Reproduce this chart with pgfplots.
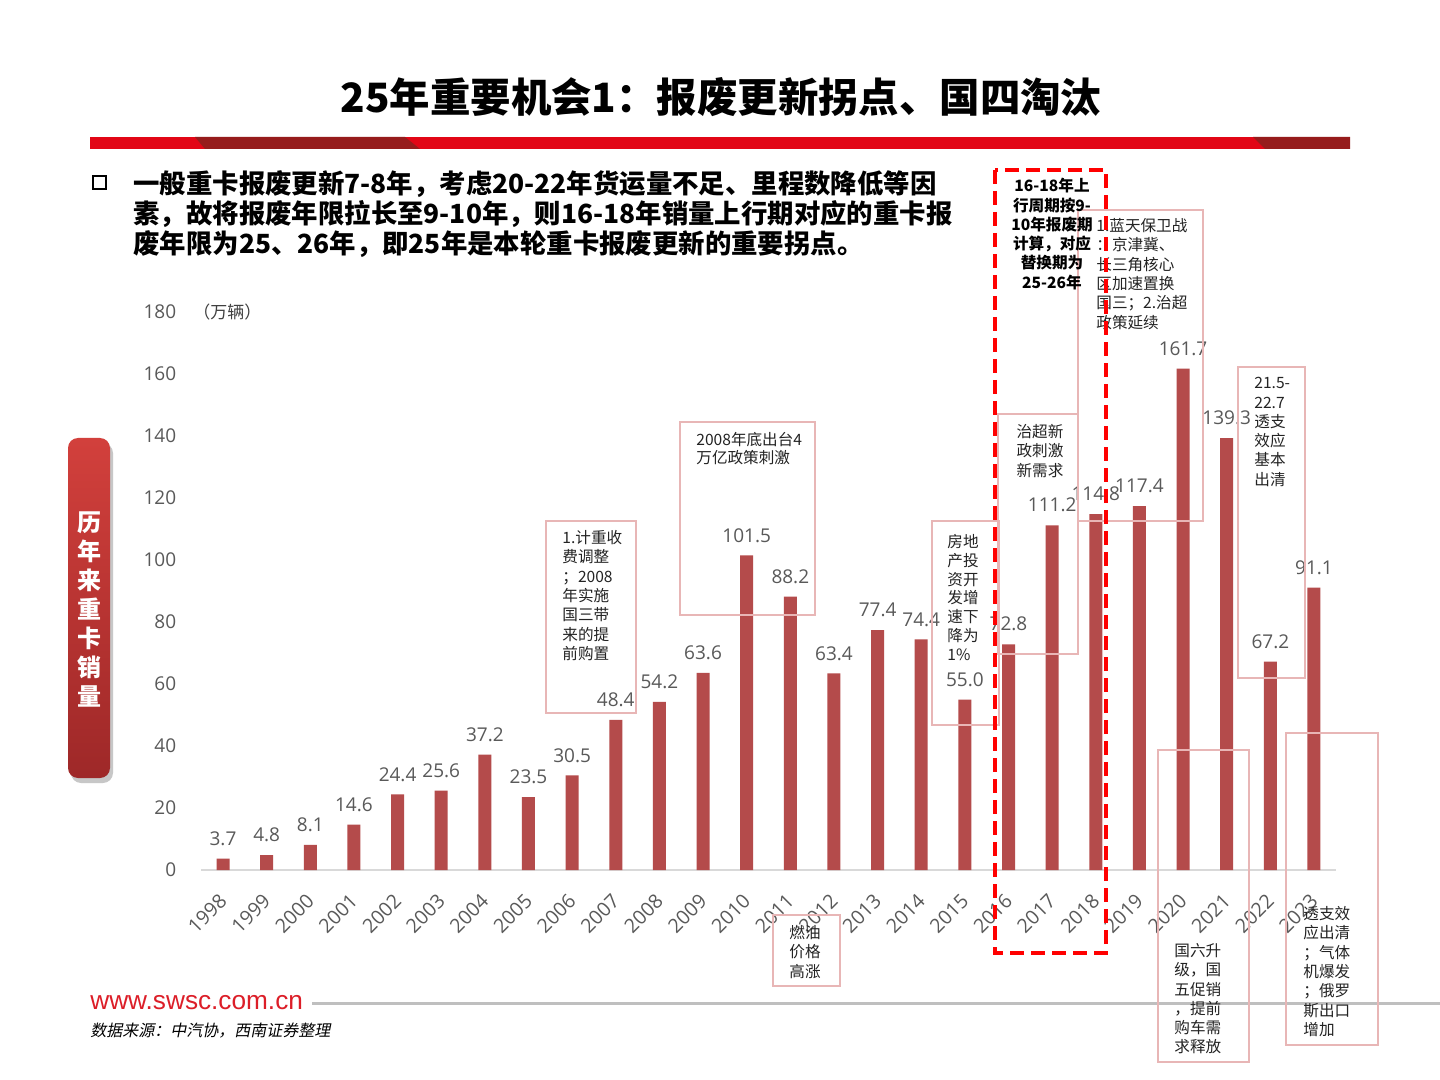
\documentclass[border=0pt]{standalone}
\usepackage{pgfplots}
\pgfplotsset{compat=1.18}
\usepackage{fontspec}
\setmainfont{Noto Sans CJK SC}
\newfontfamily\numfont{Open Sans}
\newfontfamily\urlfont{Liberation Sans}
\newfontfamily\srcfont{Noto Sans CJK SC}[FakeSlant=0.2]
\definecolor{barred}{RGB}{180,75,75}
\definecolor{lblgray}{RGB}{89,89,89}
\definecolor{boxpink}{RGB}{232,182,182}
\definecolor{brightred}{RGB}{226,6,22}
\definecolor{darkred}{RGB}{150,28,28}
\definecolor{anntext}{RGB}{35,35,35}
\definecolor{urlred}{RGB}{220,30,40}
\tikzset{ann/.style={font=\fontsize{7.8}{9.65}\selectfont, inner sep=0pt, align=left, anchor=north west, text=anntext}}
\begin{document}
\begin{tikzpicture}
\begin{scope}[x=0.5pt,y=-0.5pt]
\useasboundingbox (0,0) rectangle (1440,1080);
\fill[white] (0,0) rectangle (1440,1080);
% title
\node[font=\bfseries\fontsize{20.2}{24}\selectfont] at (721,97) {25年重要机会1：报废更新拐点、国四淘汰};
% band
\fill[brightred] (90,137) rectangle (1350,149);
\fill[darkred] (195,137) -- (405,137) -- (420,149) -- (205,149) -- cycle;
\fill[darkred] (1253,137) -- (1350,137) -- (1350,149) -- (1265,149) -- cycle;
% bullet + text
\draw[line width=1.3pt] (93,176) rectangle (106,189);
\node[anchor=north west, align=left, inner sep=0pt, font=\bfseries\fontsize{13.2}{15}\selectfont] at (133,170)
 {一般重卡报废更新7-8年，考虑20-22年货运量不足、里程数降低等因\\素，故将报废年限拉长至9-10年，则16-18年销量上行期对应的重卡报\\废年限为25、26年，即25年是本轮重卡报废更新的重要拐点。};
% unit
\node[anchor=west, inner sep=0pt, font=\fontsize{8.5}{10}\selectfont, text={rgb,255:red,64;green,64;blue,64}] at (193,312) {（万辆）};
% sidebar
\fill[black!22, rounded corners=5pt] (71,443) rectangle (113,783);
\shade[top color={rgb,255:red,210;green,64;blue,60}, bottom color={rgb,255:red,158;green,40;blue,40}, rounded corners=5pt] (68,438) rectangle (110,778);
\node[font=\bfseries\fontsize{12}{14.5}\selectfont, text=white, align=center] at (89,609) {历\\年\\来\\重\\卡\\销\\量};
% footer
\node[anchor=west, font=\urlfont\fontsize{13.1}{16}\selectfont, text=urlred, inner sep=0pt] at (90,1003) {www.swsc.com.cn};
\draw[black!25, line width=1.5pt] (312,1003) -- (1440,1003);
\node[anchor=west, font=\srcfont\fontsize{8}{10}\selectfont, inner sep=0pt] at (90,1031) {数据来源：中汽协，西南证券整理};
\end{scope}

\begin{axis}[at={(100.6pt,-435pt)}, anchor=south west, scale only axis,
 width=567.3pt, height=279pt,
 xmin=-0.5, xmax=25.5, ymin=0, ymax=180,
 ybar, bar width=6.5pt,
 axis lines*=left, axis line style={-},
 x axis line style={draw={rgb,255:red,217;green,217;blue,217}, line width=0.75pt},
 y axis line style={draw=none},
 major tick length=0pt,
 ytick={0,20,...,180},
 xtick={0,...,25},
 xticklabels={1998,1999,2000,2001,2002,2003,2004,2005,2006,2007,2008,2009,2010,2011,2012,2013,2014,2015,2016,2017,2018,2019,2020,2021,2022,2023},
 /pgf/number format/assume math mode=true,
 yticklabel style={font=\numfont\fontsize{9.5}{11}\selectfont, text=lblgray, xshift=-9pt},
 xticklabel style={font=\numfont\fontsize{9.8}{11}\selectfont, text=lblgray, xshift=2.5pt, yshift=-11.5pt, rotate=45, anchor=east},
 nodes near coords,
 every node near coord/.append style={font=\numfont\fontsize{9.5}{11}\selectfont, text=lblgray, yshift=3pt, /pgf/number format/.cd, fixed, fixed zerofill, precision=1},
 clip=false,
]
\addplot[fill=barred, draw=none] coordinates {
(0,3.7) (1,4.8) (2,8.1) (3,14.6) (4,24.4) (5,25.6) (6,37.2) (7,23.5) (8,30.5) (9,48.4)
(10,54.2) (11,63.6) (12,101.5) (13,88.2) (14,63.4) (15,77.4) (16,74.4) (17,55.0) (18,72.8)
(19,111.2) (20,114.8) (21,117.4) (22,161.7) (23,139.3) (24,67.2) (25,91.1)};
\end{axis}

\begin{scope}[x=0.5pt,y=-0.5pt]
% pink boxes
\begin{scope}[draw=boxpink, line width=0.75pt]
\draw (1078,210) rectangle (1203,521);
\draw (998,414) rectangle (1078,654);
\draw (680,422) rectangle (815,615);
\draw (546,521) rectangle (636,713);
\draw (932,521) rectangle (999,725);
\draw (1238,367) rectangle (1305,678);
\draw (773,915) rectangle (840,986);
\draw (1158,750) rectangle (1249,1062);
\draw (1286,733) rectangle (1378,1045);
\end{scope}
\node[ann] at (1096,218) {1.蓝天保卫战\\：京津冀、\\长三角核心\\区加速置换\\国三；2.治超\\政策延续};
\node[ann, anchor=north, align=center] at (1040,424) {治超新\\政刺激\\新需求};
\node[ann, font=\fontsize{7.8}{9}\selectfont] at (696,432) {2008年底出台4\\万亿政策刺激};
\node[ann] at (562,530) {1.计重收\\费调整\\；2008\\年实施\\国三带\\来的提\\前购置};
\node[ann, font=\fontsize{7.8}{9.4}\selectfont] at (947,534) {房地\\产投\\资开\\发增\\速下\\降为\\1\%};
\node[ann] at (1254,377) {21.5-\\22.7\\透支\\效应\\基本\\出清};
\node[ann, anchor=north, align=center] at (805,925) {燃油\\价格\\高涨};
\node[ann] at (1174,943) {国六升\\级，国\\五促销\\，提前\\购车需\\求释放};
\node[ann] at (1303,906) {透支效\\应出清\\；气体\\机爆发\\；俄罗\\斯出口\\增加};
% dashed box
\draw[red, line width=2pt, dash pattern=on 7pt off 3.5pt] (995,170) rectangle (1106,953);
\node[ann, anchor=north, align=center, text=black, font=\bfseries\fontsize{7.8}{9.65}\selectfont] at (1052,178) {16-18年上\\行周期按9-\\10年报废期\\计算，对应\\替换期为\\25-26年};
\end{scope}
\end{tikzpicture}
\end{document}
